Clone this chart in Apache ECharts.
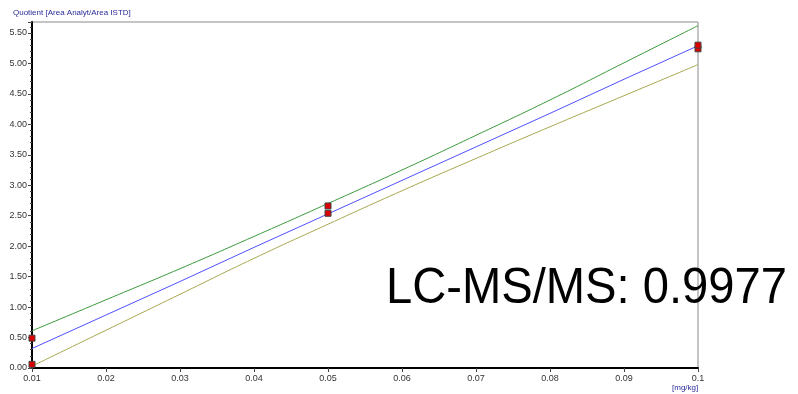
<!DOCTYPE html>
<html>
<head>
<meta charset="utf-8">
<script src="https://cdn.jsdelivr.net/npm/echarts@6/dist/echarts.min.js"></script>
<style>
  html, body { margin: 0; padding: 0; background: #fff; }
  #chart { width: 798px; height: 394px; }
</style>
</head>
<body>
<div id="chart"></div>
<script>
// Concentration levels (mg/kg)
const xLevels = [0.01, 0.02, 0.03, 0.04, 0.05, 0.06, 0.07, 0.08, 0.09, 0.1];
// Calibration line and confidence band
const fitLine = [0.32, 0.87, 1.42, 1.98, 2.53, 3.08, 3.63, 4.18, 4.74, 5.29];
const upperBand = [0.61, 1.12, 1.63, 2.16, 2.70, 3.25, 3.82, 4.40, 5.01, 5.62];
const lowerBand = [0.03, 0.62, 1.21, 1.80, 2.36, 2.91, 3.44, 3.96, 4.47, 4.98];
// Measured calibration points
const pointX = [0.01, 0.01, 0.05, 0.05, 0.1, 0.1];
const pointY = [0.06, 0.49, 2.54, 2.66, 5.24, 5.30];

const toPairs = (xs, ys) => xs.map((x, i) => [x, ys[i]]);

const chart = echarts.init(document.getElementById('chart'));

const chartOptions = {
    animation: false,
    textStyle: { fontFamily: 'Liberation Sans, Arial, sans-serif' },
    grid: {
        left: 32, right: 100, top: 22, bottom: 26,
        show: true, borderColor: '#8a8a8a', borderWidth: 1, backgroundColor: '#fff'
    },
    xAxis: {
        type: 'value', min: 0.01, max: 0.1, interval: 0.01,
        axisLine: { onZero: false, lineStyle: { color: '#000', width: 2 } },
        axisTick: { length: 4, lineStyle: { color: '#444' } },
        axisLabel: { color: '#333', fontSize: 9, margin: 6 },
        splitLine: { show: false }
    },
    yAxis: {
        type: 'value', min: 0, max: 5.68, interval: 0.5,
        axisLine: { show: true, onZero: false, lineStyle: { color: '#000', width: 2 } },
        axisTick: { show: true, length: 4, lineStyle: { color: '#444' } },
        minorTick: { show: true, splitNumber: 5, length: 2, lineStyle: { color: '#444' } },
        axisLabel: {
            color: '#333', fontSize: 9, margin: 5, showMaxLabel: false,
            formatter: v => v.toFixed(2)
        },
        splitLine: { show: false }
    },
    series: [
        {
            type: 'line', data: toPairs(xLevels, upperBand), smooth: true, symbol: 'none',
            lineStyle: { color: '#3c9a3c', width: 1 }
        },
        {
            type: 'line', data: toPairs(xLevels, lowerBand), smooth: true, symbol: 'none',
            lineStyle: { color: '#a8a850', width: 1 }
        },
        {
            type: 'line', data: toPairs(xLevels, fitLine), symbol: 'none',
            lineStyle: { color: '#5050ff', width: 1 }
        },
        {
            type: 'scatter', data: toPairs(pointX, pointY), symbol: 'rect', symbolSize: 6,
            clip: false, z: 5,
            itemStyle: { color: '#dd0000', borderColor: '#444', borderWidth: 1, opacity: 1 }
        }
    ],
    graphic: [
        {
            type: 'text', left: 13, top: 9,
            style: { text: 'Quotient [Area Analyt/Area ISTD]', fill: '#2a2a99', fontSize: 8, fontFamily: 'Liberation Sans, Arial, sans-serif' }
        },
        {
            type: 'text', left: 672, top: 384,
            style: { text: '[mg/kg]', fill: '#2a2a99', fontSize: 8, fontFamily: 'Liberation Sans, Arial, sans-serif' }
        },
        {
            // big annotation, slightly condensed to match the original width
            type: 'text', x: 386, y: 264, scaleX: 0.943, z: 10,
            style: { text: 'LC-MS/MS: 0.9977', fill: '#000', fontSize: 50, fontFamily: 'Liberation Sans, Arial, sans-serif' }
        }
    ]
};

chart.setOption(chartOptions);
</script>
</body>
</html>
